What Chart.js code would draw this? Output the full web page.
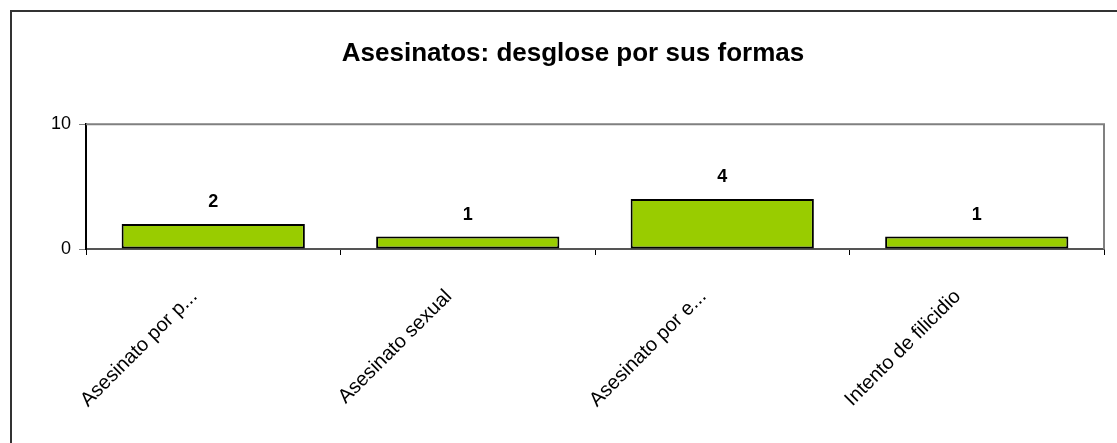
<!DOCTYPE html>
<html>
<head>
<meta charset="utf-8">
<script src="https://cdn.jsdelivr.net/npm/chart.js@4/dist/chart.umd.min.js"></script>
<style>
  body { margin: 0; background: #fff; }
  #chart { display: block; }
</style>
</head>
<body>
<canvas id="chart" width="1117" height="443"></canvas>
<script>
const labels = ["Asesinato por p...", "Asesinato sexual", "Asesinato por e...", "Intento de filicidio"];
const values = [2, 1, 4, 1];
const yTicks = [0, 10];

const FONT = "'Liberation Sans', Arial, sans-serif";

// outer frame + plot area border
const framePlugin = {
  id: "frame",
  beforeDraw(chart) {
    const ctx = chart.ctx;
    ctx.save();
    ctx.fillStyle = "#fff";
    ctx.fillRect(0, 0, chart.width, chart.height);
    ctx.strokeStyle = "#333";
    ctx.lineWidth = 2;
    ctx.beginPath();
    ctx.moveTo(11, chart.height + 5);
    ctx.lineTo(11, 11);
    ctx.lineTo(chart.width + 5, 11);
    ctx.stroke();
    ctx.restore();
  },
  beforeDatasetsDraw(chart) {
    const a = chart.chartArea;
    const ctx = chart.ctx;
    ctx.save();
    ctx.strokeStyle = "#808080";
    ctx.lineWidth = 2;
    ctx.beginPath();
    ctx.moveTo(a.left, a.top);
    ctx.lineTo(a.right, a.top);
    ctx.lineTo(a.right, a.bottom);
    ctx.stroke();
    ctx.restore();
  }
};

// value labels on top of bars
const valueLabels = {
  id: "valueLabels",
  afterDatasetsDraw(chart) {
    const ctx = chart.ctx;
    const meta = chart.getDatasetMeta(0);
    ctx.save();
    ctx.font = "bold 18px " + FONT;
    ctx.fillStyle = "#000";
    ctx.textAlign = "center";
    ctx.textBaseline = "alphabetic";
    meta.data.forEach(function (bar, i) {
      ctx.fillText(values[i], bar.x, bar.y - 17);
    });
    ctx.restore();
  }
};

new Chart(document.getElementById("chart"), {
  type: "bar",
  data: {
    labels: labels,
    datasets: [
      {
        data: values,
        backgroundColor: "#99CC00",
        borderColor: "#000",
        borderWidth: 2,
        borderSkipped: false,
        categoryPercentage: 0.72,
        barPercentage: 1,
      },
    ],
  },
  options: {
    responsive: false,
    animation: false,
    layout: { padding: { left: 42, right: 13, top: 0, bottom: 0 } },
    plugins: {
      legend: { display: false },
      tooltip: { enabled: false },
      title: {
        display: true,
        text: "Asesinatos: desglose por sus formas",
        color: "#000",
        font: { family: FONT, size: 26, weight: "bold" },
        padding: { top: 38, bottom: 55 },
      },
    },
    scales: {
      x: {
        grid: { display: true, drawOnChartArea: false, tickLength: 6, color: "#000", offset: true },
        border: { display: true, color: "#555", width: 2 },
        ticks: {
          autoSkip: false,
          minRotation: 45,
          maxRotation: 45,
          color: "#000",
          padding: 30,
          labelOffset: -19,
          font: { family: FONT, size: 20 },
        },
        afterFit(scale) { scale.height = 443 - 249; },
      },
      y: {
        min: 0,
        max: 10,
        afterBuildTicks(scale) { scale.ticks = yTicks.map(function (v) { return { value: v }; }); },
        grid: { drawOnChartArea: false, tickLength: 7, color: "#808080" },
        border: { display: true, color: "#000", width: 2 },
        ticks: {
          color: "#000",
          padding: 8,
          font: { family: FONT, size: 18 },
        },
        afterFit(scale) { scale.width = 44; },
      },
    },
  },
  plugins: [framePlugin, valueLabels],
});
</script>
</body>
</html>
